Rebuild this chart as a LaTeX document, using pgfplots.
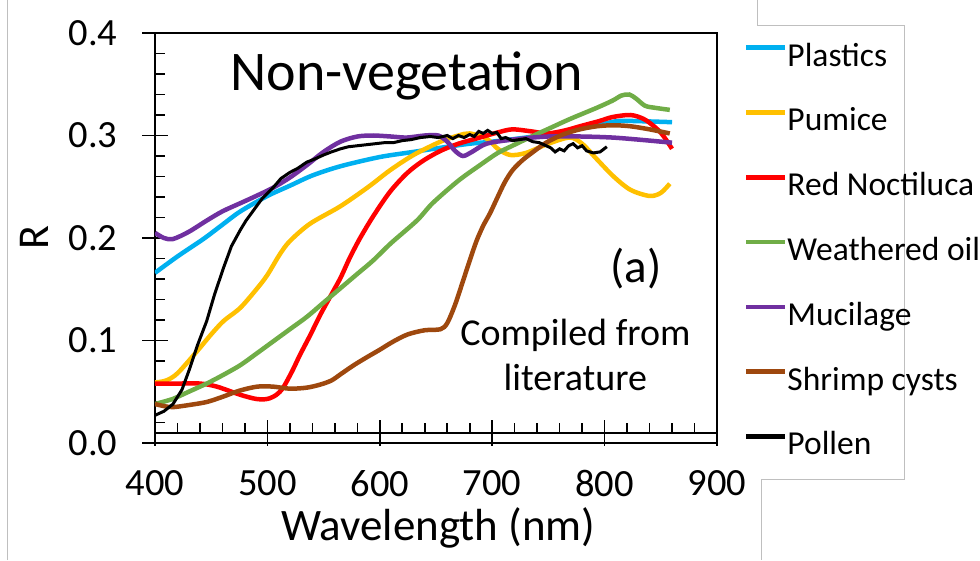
\documentclass[border=0pt]{standalone}
\usepackage{pgfplots}
\pgfplotsset{compat=1.18}
\usepackage{fontspec}
\setmainfont{Carlito}
\definecolor{cPlas}{HTML}{00B0F0}
\definecolor{cPum}{HTML}{FFC000}
\definecolor{cRed}{HTML}{FF0000}
\definecolor{cOil}{HTML}{70AD47}
\definecolor{cMuc}{HTML}{7030A0}
\definecolor{cShr}{HTML}{9E480E}
\begin{document}
\begin{tikzpicture}[x=1pt,y=1pt]
\path[use as bounding box] (0,0) rectangle (980,560);
\draw[black!25, line width=0.8pt] (7,0) -- (7,560);
\draw[black!25, line width=0.8pt] (757,560) -- (757,535) -- (904,535) -- (904,81) -- (761,81) -- (761,0);
% auxiliary axis: minor ticks (inside) and the inner bottom line
\begin{axis}[
  at={(155pt,127pt)}, anchor=south west, scale only axis,
  width=562pt, height=400pt,
  xmin=400, xmax=900, ymin=0.0098, ymax=0.4,
  xtick={400,500,600,700,800,900}, ytick={0.1,0.2,0.3,0.4},
  minor xtick={420,440,460,480,520,540,560,580,620,640,660,680,720,740,760,780,820,840,860,880},
  minor ytick={0.02,0.04,0.06,0.08,0.12,0.14,0.16,0.18,0.22,0.24,0.26,0.28,0.32,0.34,0.36,0.38},
  tick align=inside, major tick length=0pt, minor tick length=10pt,
  tick pos=left, xticklabels={}, yticklabels={},
  axis x line*=bottom, axis y line*=left,
  axis line style={line width=1.6pt, black, -},
  tick style={line width=1.6pt, black},
]
\end{axis}
% auxiliary axis: major x ticks crossing the inner bottom line
\begin{axis}[
  at={(155pt,127pt)}, anchor=south west, scale only axis,
  width=562pt, height=400pt,
  xmin=400, xmax=900, ymin=0.0098, ymax=0.4,
  xtick={400,500,600,700,800,900}, xticklabels={},
  tick align=center, major tick length=25pt,
  axis x line*=bottom, axis y line=none,
  axis line style={line width=1.6pt, black, -},
  tick style={line width=1.6pt, black},
]
\end{axis}
\begin{axis}[
  at={(155pt,117pt)}, anchor=south west, scale only axis,
  width=562pt, height=410pt,
  xmin=400, xmax=900, ymin=0, ymax=0.4,
  xtick={400,500,600,700,800,900},
  ytick={0,0.1,0.2,0.3,0.4},
  tick pos=left, tick align=center,
  major tick length=25pt,
  axis line style={line width=1.6pt, black},
  tick style={line width=1.6pt, black},
  xtick style={draw=none},
  /pgf/number format/assume math mode=true,
  ticklabel style={font=\fontsize{38.5}{44}\selectfont},
  yticklabel style={/pgf/number format/.cd, fixed, fixed zerofill, precision=1, /tikz/.cd, anchor=east, inner sep=0pt, xshift=-25pt},
  xticklabel style={/pgf/number format/.cd, fixed, precision=0, 1000 sep={}, /tikz/.cd, anchor=north, inner sep=0pt, yshift=-14.5pt},
  scaled y ticks=false,
  xlabel={Wavelength (nm)},
  xlabel style={font=\fontsize{45}{50}\selectfont, at={(axis description cs:0.504,-0.2366)}, anchor=base},
  ylabel={R},
  ylabel style={font=\fontsize{44}{48}\selectfont, at={(axis description cs:-0.19,0.5)}, anchor=base},
  legend style={at={(axis description cs:1.048,0.9756)}, anchor=north west, draw=none, fill=none,
    inner sep=0pt, outer sep=0pt, font=\fontsize{33.5}{36}\selectfont, row sep=34.8pt,
    nodes={inner sep=0pt, text height=23pt, text depth=7pt},
    /tikz/every odd column/.append style={column sep=0pt}},
  legend cell align=left,
  legend image code/.code={\draw[#1, line width=4.5pt] (0pt,10.3pt) -- (39pt,10.3pt);},
  every axis plot/.append style={line width=4.5pt, smooth},
]
\addplot[cPlas] coordinates {(400,0.166)(420,0.182)(443,0.199)(460,0.213)(476,0.226)(500,0.241)(520,0.251)(540,0.261)(565,0.270)(600,0.279)(630,0.284)(654,0.288)(680,0.292)(700,0.294)(730,0.298)(760,0.303)(790,0.309)(811,0.314)(830,0.314)(860,0.313)};
\addlegendentry{Plastics}
\addplot[cPum] coordinates {(400,0.059)(410,0.061)(420,0.068)(437,0.089)(450,0.106)(461,0.119)(476,0.132)(491,0.151)(500,0.164)(511,0.184)(520,0.197)(538,0.214)(565,0.231)(590,0.250)(609,0.266)(630,0.281)(654,0.294)(670,0.300)(680,0.302)(695,0.297)(705,0.287)(716,0.281)(730,0.283)(750,0.292)(769,0.298)(780,0.292)(793,0.277)(808,0.260)(823,0.247)(840,0.241)(850,0.244)(858,0.253)};
\addlegendentry{Pumice}
\addplot[cRed] coordinates {(400,0.058)(420,0.058)(440,0.058)(455,0.055)(476,0.047)(490,0.043)(500,0.043)(508,0.047)(514,0.054)(522,0.070)(529,0.086)(538,0.105)(547,0.125)(556,0.143)(565,0.161)(573,0.180)(582,0.199)(594,0.221)(609,0.245)(624,0.263)(638,0.275)(654,0.285)(670,0.292)(689,0.298)(705,0.303)(718,0.306)(735,0.304)(749,0.302)(765,0.305)(778,0.309)(795,0.314)(807,0.318)(823,0.320)(835,0.316)(845,0.308)(852,0.300)(860,0.287)};
\addlegendentry{Red Noctiluca}
\addplot[cOil] coordinates {(400,0.038)(410,0.041)(416,0.043)(430,0.050)(446,0.058)(460,0.066)(476,0.076)(490,0.087)(505,0.099)(520,0.111)(535,0.123)(550,0.137)(565,0.151)(580,0.165)(594,0.178)(610,0.195)(633,0.217)(647,0.234)(670,0.256)(689,0.271)(705,0.283)(718,0.290)(735,0.299)(749,0.306)(769,0.316)(793,0.327)(807,0.334)(815,0.339)(822,0.340)(828,0.336)(836,0.329)(845,0.327)(858,0.325)};
\addlegendentry{Weathered oil}
\addplot[cMuc] coordinates {(400,0.205)(408,0.200)(416,0.199)(430,0.206)(446,0.217)(460,0.226)(476,0.234)(490,0.241)(505,0.249)(520,0.259)(535,0.271)(550,0.284)(565,0.294)(580,0.299)(594,0.300)(610,0.299)(624,0.298)(640,0.300)(652,0.300)(660,0.294)(667,0.285)(674,0.280)(682,0.284)(695,0.292)(718,0.296)(749,0.299)(780,0.299)(807,0.298)(830,0.296)(860,0.293)};
\addlegendentry{Mucilage}
\addplot[cShr] coordinates {(400,0.038)(408,0.036)(416,0.035)(430,0.037)(446,0.040)(460,0.045)(475,0.051)(491,0.055)(505,0.055)(520,0.053)(535,0.054)(547,0.057)(557,0.061)(565,0.067)(577,0.076)(589,0.084)(600,0.091)(612,0.099)(625,0.106)(640,0.110)(654,0.111)(660,0.117)(667,0.135)(674,0.158)(680,0.178)(686,0.197)(692,0.212)(698,0.224)(704,0.238)(711,0.254)(718,0.266)(726,0.275)(734,0.282)(748,0.293)(763,0.301)(778,0.306)(793,0.309)(808,0.310)(823,0.309)(840,0.306)(858,0.302)};
\addlegendentry{Shrimp cysts}
\addplot[black, line width=3pt, sharp plot] coordinates {(400,0.027)(408,0.031)(416,0.038)(424,0.052)(431,0.073)(438,0.096)(446,0.119)(453,0.145)(461,0.171)(468,0.192)(476,0.208)(481,0.217)(487,0.226)(495,0.238)(505,0.249)(512,0.258)(520,0.264)(527,0.268)(535,0.274)(542,0.277)(550,0.281)(557,0.284)(565,0.287)(572,0.289)(580,0.290)(588,0.291)(596,0.292)(604,0.293)(612,0.293)(620,0.295)(628,0.296)(636,0.298)(645,0.299)(652,0.298)(660,0.300)(665,0.297)(670,0.300)(675,0.298)(680,0.301)(684,0.299)(688,0.304)(692,0.302)(696,0.305)(700,0.302)(704,0.303)(708,0.297)(712,0.298)(718,0.295)(724,0.296)(730,0.297)(736,0.294)(742,0.293)(748,0.290)(752,0.288)(756,0.284)(760,0.287)(764,0.285)(768,0.290)(772,0.292)(776,0.288)(780,0.290)(784,0.285)(790,0.283)(796,0.284)(802,0.289)};
\addlegendentry{Pollen}
\node[anchor=base, font=\fontsize{56}{60}\selectfont] at (axis cs:624,0.344) {Non-vegetation};
\node[anchor=base, font=\fontsize{47}{50}\selectfont] at (axis cs:828,0.157) {(a)};
\node[anchor=base, font=\fontsize{38}{42}\selectfont] at (axis cs:774,0.0956) {Compiled from};
\node[anchor=base, font=\fontsize{38}{42}\selectfont] at (axis cs:774,0.0517) {literature};
\end{axis}
\end{tikzpicture}
\end{document}
